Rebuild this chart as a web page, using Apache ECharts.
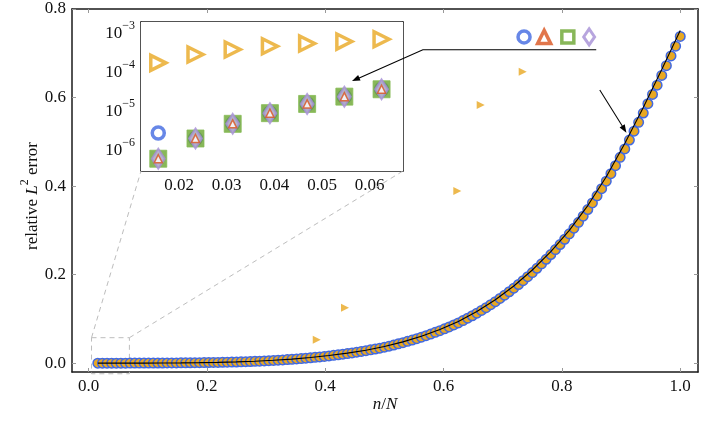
<!DOCTYPE html>
<html><head><meta charset="utf-8">
<script src="https://cdn.jsdelivr.net/npm/echarts@6/dist/echarts.min.js"></script>
<style>html,body{margin:0;padding:0;background:#fff}#c{width:706px;height:423px}</style>
</head><body><div id="c"></div>
<script>
// ---------- data ----------
const N = 128;
const nValues = [
  2,3,4,5,6,7,8,9,10,11,
  12,13,14,15,16,17,18,19,20,21,
  22,23,24,25,26,27,28,29,30,31,
  32,33,34,35,36,37,38,39,40,41,
  42,43,44,45,46,47,48,49,50,51,
  52,53,54,55,56,57,58,59,60,61,
  62,63,64,65,66,67,68,69,70,71,
  72,73,74,75,76,77,78,79,80,81,
  82,83,84,85,86,87,88,89,90,91,
  92,93,94,95,96,97,98,99,100,101,
  102,103,104,105,106,107,108,109,110,111,
  112,113,114,115,116,117,118,119,120,121,
  122,123,124,125,126,127,128
];
const mainError = [
  6.25e-7, 2.06e-6, 4.89e-6, 9.17e-6, 1.58e-5, 2.43e-5, 3.75e-5, 5.38e-5, 7.42e-5, 9.94e-5,
  1.297e-4, 1.657e-4, 2.078e-4, 2.567e-4, 3.127e-4, 3.766e-4, 4.485e-4, 5.293e-4, 6.19e-4, 7.19e-4,
  8.29e-4, 9.50e-4, 1.082e-3, 1.225e-3, 1.382e-3, 1.551e-3, 1.734e-3, 1.930e-3, 2.141e-3, 2.367e-3,
  2.608e-3, 2.92e-3, 3.27e-3, 3.65e-3, 4.06e-3, 4.51e-3, 4.99e-3, 5.50e-3, 6.06e-3, 6.65e-3,
  7.29e-3, 7.97e-3, 8.69e-3, 9.47e-3, 0.01029, 0.01116, 0.01209, 0.01307, 0.01411, 0.01521,
  0.01637, 0.01760, 0.01889, 0.02025, 0.02168, 0.02318, 0.02476, 0.02642, 0.02816, 0.02998,
  0.03189, 0.03388, 0.03597, 0.03839, 0.04090, 0.04354, 0.04630, 0.04919, 0.05222, 0.05538,
  0.05869, 0.06215, 0.06576, 0.06953, 0.07346, 0.07755, 0.08182, 0.08626, 0.09088, 0.09607,
  0.10146, 0.10708, 0.11294, 0.11905, 0.12541, 0.13203, 0.13892, 0.14608, 0.15353, 0.16127,
  0.16930, 0.17765, 0.18631, 0.19529, 0.20461, 0.21427, 0.22427, 0.23464, 0.24536, 0.25647,
  0.26797, 0.27986, 0.29215, 0.30487, 0.31800, 0.332, 0.347, 0.362, 0.378, 0.394,
  0.411, 0.428, 0.446, 0.465, 0.484, 0.504, 0.524, 0.544, 0.565, 0.586,
  0.607, 0.628, 0.650, 0.672, 0.694, 0.716, 0.738
];
const lineN = [2,4,8,12,16,20,24,28,32,36,40,44,48,52,56,60,64,68,72,76,80,84,88,92,96,100,104,108,112,116,120,124,128];
const lineError = [
  1.49e-6, 7.46e-6, 4.73e-5, 1.513e-4, 3.51e-4, 6.79e-4, 1.168e-3, 1.852e-3, 2.795e-3, 4.33e-3,
  6.41e-3, 9.16e-3, 0.01268, 0.01711, 0.02258, 0.02925, 0.03742, 0.04803, 0.06077, 0.07591,
  0.09399, 0.11661, 0.14322, 0.17431, 0.21041, 0.25203, 0.29978, 0.356, 0.4212, 0.496,
  0.5776, 0.6632, 0.7512
];
const outlierX = [0.3856, 0.4334, 0.6232, 0.6627, 0.7337];
const outlierError = [0.053, 0.125, 0.389, 0.583, 0.658];

const insetN = [2,3,4,5,6,7,8];
const insetCircleError   = [2.83e-6, 2.06e-6, 4.89e-6, 9.17e-6, 1.58e-5, 2.43e-5, 3.75e-5];
const insetSquareError   = [6.25e-7, 2.06e-6, 4.89e-6, 9.17e-6, 1.58e-5, 2.43e-5, 3.75e-5];
const insetDiamondError  = [6.25e-7, 2.06e-6, 4.89e-6, 9.17e-6, 1.58e-5, 2.43e-5, 3.75e-5];
const insetSmallTriError = [6.25e-7, 2.06e-6, 4.89e-6, 9.17e-6, 1.58e-5, 2.43e-5, 3.75e-5];
const insetBigTriError   = [1.78e-4, 2.91e-4, 3.91e-4, 4.74e-4, 5.56e-4, 6.25e-4, 7.16e-4];

const mainXTicks = [0, 0.2, 0.4, 0.6, 0.8, 1.0];
const mainYTicks = [0, 0.2, 0.4, 0.6, 0.8];
const insetXTicks = [0.02, 0.03, 0.04, 0.05, 0.06];
const insetYTicks = [1e-6, 1e-5, 1e-4, 1e-3];

const legendMarkX = [0.736, 0.770, 0.810, 0.846];
const legendMarkY = 0.737;

// ---------- style ----------
const FONT = "'Liberation Serif', 'DejaVu Serif', serif";
const BLUE = '#4169e1', ORANGE = '#d9541e', GREEN = '#6aa52f', PURPLE = '#a58fd6', YELLOW = '#e8a822';
const TXT = '#111';

const chart = echarts.init(document.getElementById('c'), null, {renderer: 'canvas'});

function xAxisDef(grid, pos, min, max, ticks, fmt, showLabel) {
  return {
    type: 'value', gridIndex: grid, position: pos, min: min, max: max,
    axisLine: {show: true, onZero: false, lineStyle: {color: '#1a1a1a', width: 1.5}},
    axisTick: {show: true, inside: true, length: 4, customValues: ticks, lineStyle: {color: '#999', width: 1}},
    axisLabel: {show: showLabel, customValues: ticks, formatter: fmt, fontFamily: FONT, fontSize: 17, color: TXT, margin: 6},
    splitLine: {show: false}
  };
}
function yAxisDef(grid, pos, type, min, max, ticks, fmt, showLabel, rich) {
  const a = {
    type: type, gridIndex: grid, position: pos, min: min, max: max,
    axisLine: {show: true, onZero: false, lineStyle: {color: '#1a1a1a', width: 1.5}},
    axisTick: {show: true, inside: true, length: 4, customValues: ticks, lineStyle: {color: '#999', width: 1}},
    axisLabel: {show: showLabel, customValues: ticks, formatter: fmt, fontFamily: FONT, fontSize: 17, color: TXT, margin: 6},
    splitLine: {show: false}, minorTick: {show: false}
  };
  if (type === 'log') a.logBase = 10;
  if (rich) a.axisLabel.rich = rich;
  return a;
}

const supRich = {
  b: {fontFamily: FONT, fontSize: 17, color: TXT, lineHeight: 28},
  s: {fontFamily: FONT, fontSize: 12, color: TXT, lineHeight: 12, verticalAlign: 'top'}
};
const fmt1 = v => v.toFixed(1);
const fmt2 = v => v.toFixed(2);
const fmtLog = v => {
  const e = Math.round(Math.log10(v));
  return '{b|10}{s|\u2212' + (-e) + '}';
};

const xMin = -0.028, xMax = 1.03, yMin = -0.02, yMax = 0.8;
const ixMin = 0.012, ixMax = 0.067, iyMin = 3.03e-7, iyMax = 1.98e-3;

const option = {
  animation: false,
  backgroundColor: '#fff',
  grid: [
    {left: 72, top: 9, width: 626, height: 363, show: false},
    {left: 141, top: 22, width: 262, height: 149, show: true, backgroundColor: '#fff', borderWidth: 0, z: 5}
  ],
  xAxis: [
    xAxisDef(0, 'bottom', xMin, xMax, mainXTicks, fmt1, true),
    xAxisDef(0, 'top', xMin, xMax, mainXTicks, fmt1, false),
    xAxisDef(1, 'bottom', ixMin, ixMax, insetXTicks, fmt2, true),
    xAxisDef(1, 'top', ixMin, ixMax, insetXTicks, fmt2, false)
  ],
  yAxis: [
    yAxisDef(0, 'left', 'value', yMin, yMax, mainYTicks, fmt1, true),
    yAxisDef(0, 'right', 'value', yMin, yMax, mainYTicks, fmt1, false),
    yAxisDef(1, 'left', 'log', iyMin, iyMax, insetYTicks, fmtLog, true, supRich),
    yAxisDef(1, 'right', 'log', iyMin, iyMax, insetYTicks, fmtLog, false, supRich)
  ],
  series: [
    {
      type: 'scatter', xAxisIndex: 0, yAxisIndex: 0, z: 2,
      data: nValues.map((n, i) => [n / N, mainError[i]]),
      symbol: 'circle', symbolSize: 9.5,
      itemStyle: {color: YELLOW, borderColor: BLUE, borderWidth: 1.5, opacity: 1}
    },
    {
      type: 'line', xAxisIndex: 0, yAxisIndex: 0, z: 3,
      data: lineN.map((n, i) => [n / N, lineError[i]]),
      showSymbol: false, symbol: 'none',
      lineStyle: {color: '#000', width: 1.1}
    },
    {
      type: 'scatter', xAxisIndex: 0, yAxisIndex: 0, z: 4,
      data: outlierX.map((x, i) => [x, outlierError[i]]),
      symbol: 'triangle', symbolRotate: -90, symbolSize: 8,
      itemStyle: {color: YELLOW}
    },
    // legend glyphs
    {type: 'scatter', xAxisIndex: 0, yAxisIndex: 0, z: 4, data: [[legendMarkX[0], legendMarkY]],
      symbol: 'circle', symbolSize: 12, itemStyle: {color: '#fff', borderColor: BLUE, borderWidth: 3.5}},
    {type: 'scatter', xAxisIndex: 0, yAxisIndex: 0, z: 4, data: [[legendMarkX[1], legendMarkY]],
      symbol: 'triangle', symbolSize: 13, itemStyle: {color: '#fff', borderColor: ORANGE, borderWidth: 3.5}},
    {type: 'scatter', xAxisIndex: 0, yAxisIndex: 0, z: 4, data: [[legendMarkX[2], legendMarkY]],
      symbol: 'rect', symbolSize: 12, itemStyle: {color: '#fff', borderColor: GREEN, borderWidth: 3.5}},
    {type: 'scatter', xAxisIndex: 0, yAxisIndex: 0, z: 4, data: [[legendMarkX[3], legendMarkY]],
      symbol: 'diamond', symbolSize: [11, 16], itemStyle: {color: '#fff', borderColor: PURPLE, borderWidth: 3}},
    // inset
    {type: 'scatter', xAxisIndex: 2, yAxisIndex: 2, z: 6,
      data: insetN.map((n, i) => [n / N, insetCircleError[i]]),
      symbol: 'circle', symbolSize: 12, itemStyle: {color: '#fff', borderColor: BLUE, borderWidth: 3.5}},
    {type: 'scatter', xAxisIndex: 2, yAxisIndex: 2, z: 7,
      data: insetN.map((n, i) => [n / N, insetSquareError[i]]),
      symbol: 'rect', symbolSize: 17, itemStyle: {color: GREEN, borderColor: '#86bb55', borderWidth: 1}},
    {type: 'scatter', xAxisIndex: 2, yAxisIndex: 2, z: 8,
      data: insetN.map((n, i) => [n / N, insetDiamondError[i]]),
      symbol: 'diamond', symbolSize: [13, 20], itemStyle: {color: '#c2b2e6', borderColor: PURPLE, borderWidth: 2}},
    {type: 'scatter', xAxisIndex: 2, yAxisIndex: 2, z: 9,
      data: insetN.map((n, i) => [n / N, insetSmallTriError[i]]),
      symbol: 'triangle', symbolSize: 8, itemStyle: {color: '#fff', borderColor: ORANGE, borderWidth: 1.5}},
    {type: 'scatter', xAxisIndex: 2, yAxisIndex: 2, z: 9,
      data: insetN.map((n, i) => [n / N, insetBigTriError[i]]),
      symbol: 'triangle', symbolRotate: -90, symbolSize: 15, itemStyle: {color: '#fff', borderColor: YELLOW, borderWidth: 3.5}}
  ]
};
chart.setOption(option);

// ---------- annotations (positioned through the axes) ----------
const px = (ai, v) => chart.convertToPixel({xAxisIndex: ai}, v);
const py = (ai, v) => chart.convertToPixel({yAxisIndex: ai}, v);

function arrowHead(tip, from, len, half) {
  const dx = tip[0] - from[0], dy = tip[1] - from[1];
  const d = Math.sqrt(dx * dx + dy * dy);
  const ux = dx / d, uy = dy / d;
  const bx = tip[0] - ux * len, by = tip[1] - uy * len;
  return [[tip[0], tip[1]], [bx - uy * half, by + ux * half], [bx + uy * half, by - ux * half]];
}
function shorten(tip, from, by) {
  const dx = tip[0] - from[0], dy = tip[1] - from[1];
  const d = Math.sqrt(dx * dx + dy * dy);
  return [tip[0] - dx / d * by, tip[1] - dy / d * by];
}

const boxL = px(0, 0.005), boxR = px(0, 0.069), boxT = py(0, 0.0575), boxB = py(0, -0.024);
const inL = px(2, ixMin), inR = px(2, ixMax), inB = py(2, iyMin);
const dashStyle = {stroke: '#bdbdbd', lineWidth: 1, lineDash: [5, 4], fill: null};

const p1 = [px(0, 0.858), py(0, 0.708)];
const p2 = [px(0, 0.565), py(0, 0.708)];
const tip1 = [px(2, 0.0563), py(2, 6.07e-5)];
const a2s = [px(0, 0.864), py(0, 0.617)];
const a2t = [px(0, 0.909), py(0, 0.5207)];
const a2e = shorten(a2t, a2s, 6);

chart.setOption({
  graphic: [
    {type: 'rect', z: 1, shape: {x: boxL, y: boxT, width: boxR - boxL, height: boxB - boxT}, style: dashStyle, silent: true},
    {type: 'line', z: 1, shape: {x1: boxL, y1: boxT, x2: inL, y2: inB}, style: dashStyle, silent: true},
    {type: 'line', z: 1, shape: {x1: boxR, y1: boxT, x2: inR, y2: inB}, style: dashStyle, silent: true},
    {type: 'polyline', z: 100, shape: {points: [p1, p2, shorten(tip1, p2, 6)]}, style: {stroke: '#000', lineWidth: 1.1, fill: null}, silent: true},
    {type: 'polygon', z: 100, shape: {points: arrowHead(tip1, p2, 8, 3)}, style: {fill: '#000'}, silent: true},
    {type: 'line', z: 100, shape: {x1: a2s[0], y1: a2s[1], x2: a2e[0], y2: a2e[1]}, style: {stroke: '#000', lineWidth: 1.1}, silent: true},
    {type: 'polygon', z: 100, shape: {points: arrowHead(a2t, a2s, 8, 3)}, style: {fill: '#000'}, silent: true},
    {type: 'text', z: 100, x: 33, y: 196, rotation: Math.PI / 2, silent: true,
      style: {text: 'relative {i|L}{s|2} error', fontFamily: FONT, fontSize: 17, fill: TXT, lineHeight: 28,
        align: 'center', verticalAlign: 'middle',
        rich: {
          i: {fontFamily: FONT, fontSize: 17, fontStyle: 'italic', fill: TXT, lineHeight: 28},
          s: {fontFamily: FONT, fontSize: 12, fill: TXT, lineHeight: 12, verticalAlign: 'top'}
        }}},
    {type: 'text', z: 100, x: 385, y: 405, silent: true,
      style: {text: '{i|n}/{i|N}', fontFamily: FONT, fontSize: 17, fill: TXT,
        align: 'center', verticalAlign: 'middle',
        rich: {i: {fontFamily: FONT, fontSize: 17, fontStyle: 'italic', fill: TXT}}}}
  ]
});
</script>
</body></html>
